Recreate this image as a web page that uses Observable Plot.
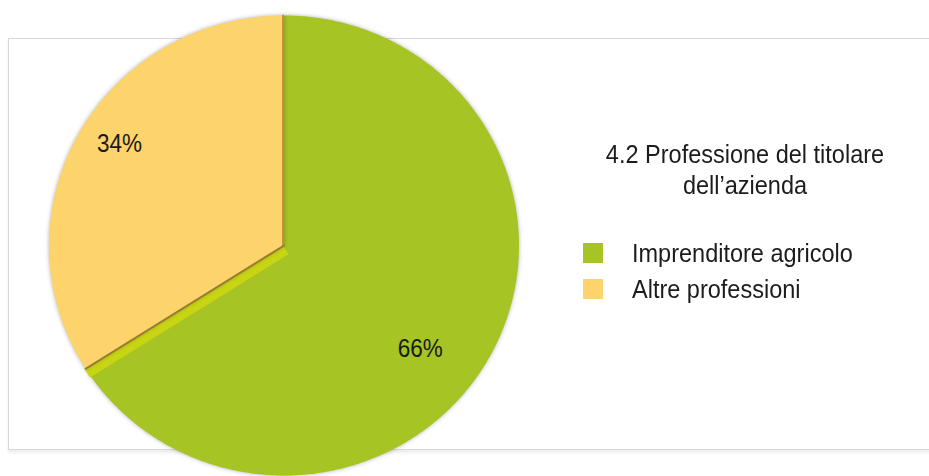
<!DOCTYPE html>
<html>
<head>
<meta charset="utf-8">
<script src="https://cdn.jsdelivr.net/npm/d3@7"></script>
<script src="https://cdn.jsdelivr.net/npm/@observablehq/plot@0.6"></script>
<style>
  html, body { margin: 0; padding: 0; background: #ffffff; }
  #wrap { position: relative; width: 929px; height: 476px; overflow: hidden; font-family: "Liberation Sans", Arial, sans-serif; }
  #box { position: absolute; left: 8px; top: 38px; width: 940px; height: 410px; border: 1px solid #d8d8d8; box-shadow: 0 3px 3px rgba(0,0,0,0.07); background: #fff; }
  #chart { position: absolute; left: 0; top: 0; }
  #chart svg { background: transparent !important; }
  .pie-fill { filter: drop-shadow(0 0 2px rgba(0,0,0,0.3)); }
  #legend { position: absolute; left: 560px; top: 139px; width: 370px; color: #1c1c1c; }
  #legend .title { text-align: center; font-size: 25px; line-height: 31px; transform: scaleX(0.94); transform-origin: 185px 0; }
  #legend .items { margin-top: 34px; margin-left: 23px; }
  #legend .item { display: flex; align-items: center; font-size: 25px; height: 36px; }
  #legend .sw { width: 20px; height: 20px; margin-right: 29px; flex: none; }
  #legend .lbl { display: inline-block; transform: scaleX(0.94); transform-origin: 0 0; white-space: nowrap; }
</style>
</head>
<body>
<div id="wrap">
  <div id="box"></div>
  <div id="chart"></div>
  <div id="legend"></div>
</div>
<script>
const categories = ["Imprenditore agricolo", "Altre professioni"];
const values = [66, 34];
const percentLabels = ["66%", "34%"];
const colors = ["#a6c423", "#fdd36b"];
const titleLines = ["4.2 Professione del titolare", "dell’azienda"];

// Build pie slices (angles clockwise from 12 o'clock) in unit-circle data space
const total = d3.sum(values);
let acc = 0;
const slices = categories.map((c, i) => {
  const a0 = acc / total * 2 * Math.PI;
  acc += values[i];
  const a1 = acc / total * 2 * Math.PI;
  const pts = [{x: 0, y: 0}];
  const n = Math.max(2, Math.ceil((a1 - a0) / (Math.PI / 360)));
  for (let k = 0; k <= n; k++) {
    const a = a0 + (a1 - a0) * k / n;
    pts.push({x: Math.sin(a), y: Math.cos(a)});
  }
  return {category: c, value: values[i], label: percentLabels[i], color: colors[i], a0, a1, pts};
});

const cx = 283.5, cy = 245, rx = 235, ry = 230;
const green = slices[0], yellow = slices[1];
const bnd = green.a1; // boundary between green and yellow (lower-left)
const edgeLower = [{x: 0, y: 0}, {x: Math.sin(bnd), y: Math.cos(bnd)}];
const edgeTop = [{x: 0, y: 0}, {x: 0, y: 1}];

const labelPos = [
  {x: 0.58, y: -0.452, text: green.label},
  {x: -0.70, y: 0.443, text: yellow.label}
];

const plot = Plot.plot({
  width: 929,
  height: 476,
  margin: 0,
  style: {background: "transparent"},
  x: {domain: [-1, 1], range: [cx - rx, cx + rx], axis: null},
  y: {domain: [-1, 1], range: [cy + ry, cy - ry], axis: null},
  marks: [
    Plot.line(green.pts, {x: "x", y: "y", fill: green.color, stroke: "none", curve: "linear-closed", className: "pie-fill"}),
    Plot.line(edgeLower, {x: "x", y: "y", stroke: "#c7d514", strokeWidth: 9, dy: 5, dx: 2, strokeLinecap: "butt"}),
    Plot.line(yellow.pts, {x: "x", y: "y", fill: yellow.color, stroke: "none", curve: "linear-closed", className: "pie-fill"}),
    Plot.line(edgeTop, {x: "x", y: "y", stroke: "#c98e3c", strokeWidth: 2, dx: -1}),
    Plot.line(edgeLower, {x: "x", y: "y", stroke: "#9a7a30", strokeWidth: 2}),
    Plot.text(labelPos, {x: "x", y: "y", text: "text", fontSize: 25, fill: "#1a1a1a", fontFamily: "Liberation Sans, Arial, sans-serif", className: "pct"})
  ]
});
document.getElementById("chart").appendChild(plot);
// slightly condense the percentage labels
plot.querySelectorAll(".pct text").forEach(el => {
  const tr = el.getAttribute("transform") || "";
  el.setAttribute("transform", tr + " scale(0.9 1)");
});

// Legend and title
const legend = document.getElementById("legend");
const t = document.createElement("div");
t.className = "title";
t.innerHTML = titleLines.join("<br>");
legend.appendChild(t);
const items = document.createElement("div");
items.className = "items";
categories.forEach((c, i) => {
  const it = document.createElement("div");
  it.className = "item";
  const sw = document.createElement("span");
  sw.className = "sw";
  sw.style.background = colors[i];
  it.appendChild(sw);
  const tx = document.createElement("span");
  tx.className = "lbl";
  tx.textContent = c;
  it.appendChild(tx);
  items.appendChild(it);
});
legend.appendChild(items);
</script>
</body>
</html>
